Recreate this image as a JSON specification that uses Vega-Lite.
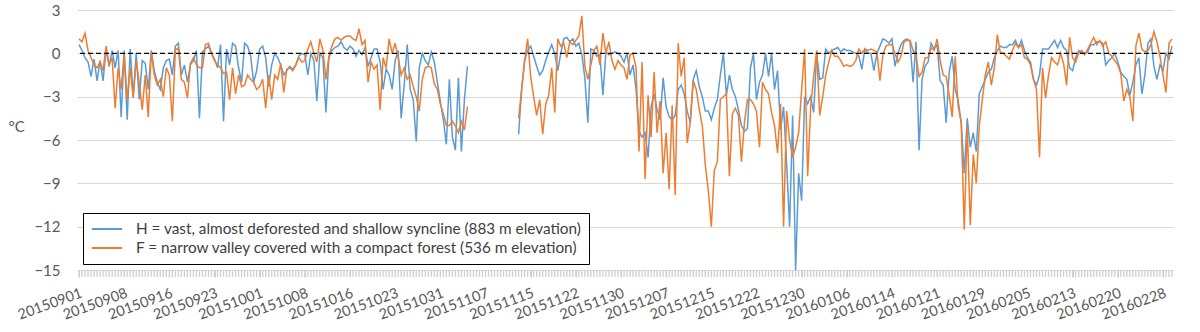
{
"$schema":"https://vega.github.io/schema/vega-lite/v6.json",
"width":1096,"height":260,
"autosize":{"type":"none"},
"padding":{"left":77,"top":10,"right":27,"bottom":62},
"background":"#ffffff",
"config":{"view":{"stroke":null},"font":"Lato"},
"data":{"values":[
{"t":"2015-09-01T00:00","H":0.6,"F":1.0},{"t":"2015-09-01T12:00","H":0.2,"F":0.8},
{"t":"2015-09-02T00:00","H":-0.3,"F":1.4},{"t":"2015-09-02T12:00","H":-0.6,"F":0.2},
{"t":"2015-09-03T00:00","H":-1.6,"F":-0.3},{"t":"2015-09-03T12:00","H":-0.4,"F":-0.8},
{"t":"2015-09-04T00:00","H":-1.9,"F":-1.0},{"t":"2015-09-04T12:00","H":-0.5,"F":-0.6},
{"t":"2015-09-05T00:00","H":-1.9,"F":-1.2},{"t":"2015-09-05T12:00","H":0.3,"F":0.5},
{"t":"2015-09-06T00:00","H":-0.9,"F":-0.8},{"t":"2015-09-06T12:00","H":0.2,"F":-0.3},
{"t":"2015-09-07T00:00","H":-1.0,"F":-3.8},{"t":"2015-09-07T12:00","H":0.2,"F":-1.0},
{"t":"2015-09-08T00:00","H":-4.4,"F":-2.5},{"t":"2015-09-08T12:00","H":0.2,"F":0.0},
{"t":"2015-09-09T00:00","H":-4.6,"F":-3.2},{"t":"2015-09-09T12:00","H":0.3,"F":-1.0},
{"t":"2015-09-10T00:00","H":-3.0,"F":-3.1},{"t":"2015-09-10T12:00","H":0.0,"F":-0.5},
{"t":"2015-09-11T00:00","H":-3.2,"F":-2.0},{"t":"2015-09-11T12:00","H":-0.5,"F":-3.9},
{"t":"2015-09-12T00:00","H":-0.7,"F":-1.5},{"t":"2015-09-12T12:00","H":-2.5,"F":-4.4},
{"t":"2015-09-13T00:00","H":0.2,"F":0.1},{"t":"2015-09-13T12:00","H":-1.2,"F":-1.5},
{"t":"2015-09-14T00:00","H":-2.0,"F":-2.2},{"t":"2015-09-14T12:00","H":-2.5,"F":-1.8},
{"t":"2015-09-15T00:00","H":-1.0,"F":-3.0},{"t":"2015-09-15T12:00","H":-0.5,"F":-1.0},
{"t":"2015-09-16T00:00","H":-0.4,"F":-1.5},{"t":"2015-09-16T12:00","H":-1.5,"F":-4.7},
{"t":"2015-09-17T00:00","H":0.5,"F":0.2},{"t":"2015-09-17T12:00","H":0.7,"F":0.4},
{"t":"2015-09-18T00:00","H":-1.5,"F":-1.8},{"t":"2015-09-18T12:00","H":-0.8,"F":-2.0},
{"t":"2015-09-19T00:00","H":-2.0,"F":-3.1},{"t":"2015-09-19T12:00","H":-0.8,"F":-0.7},
{"t":"2015-09-20T00:00","H":-0.5,"F":-0.3},{"t":"2015-09-20T12:00","H":0.2,"F":-0.8},
{"t":"2015-09-21T00:00","H":-4.5,"F":-1.0},{"t":"2015-09-21T12:00","H":0.1,"F":-1.0},
{"t":"2015-09-22T00:00","H":0.3,"F":0.6},{"t":"2015-09-22T12:00","H":0.5,"F":0.7},
{"t":"2015-09-23T00:00","H":0.0,"F":0.0},{"t":"2015-09-23T12:00","H":-0.4,"F":-0.5},
{"t":"2015-09-24T00:00","H":-1.0,"F":-0.8},{"t":"2015-09-24T12:00","H":0.6,"F":-1.0},
{"t":"2015-09-25T00:00","H":-4.7,"F":-1.4},{"t":"2015-09-25T12:00","H":0.3,"F":-1.3},
{"t":"2015-09-26T00:00","H":-0.8,"F":-3.2},{"t":"2015-09-26T12:00","H":0.7,"F":-1.0},
{"t":"2015-09-27T00:00","H":0.5,"F":-2.8},{"t":"2015-09-27T12:00","H":-1.0,"F":-1.5},
{"t":"2015-09-28T00:00","H":-2.0,"F":-2.3},{"t":"2015-09-28T12:00","H":0.7,"F":-2.2},
{"t":"2015-09-29T00:00","H":0.5,"F":-1.5},{"t":"2015-09-29T12:00","H":-0.2,"F":-1.8},
{"t":"2015-09-30T00:00","H":-2.0,"F":-2.0},{"t":"2015-09-30T12:00","H":-1.2,"F":-2.5},
{"t":"2015-10-01T00:00","H":0.3,"F":-2.3},{"t":"2015-10-01T12:00","H":0.5,"F":-1.8},
{"t":"2015-10-02T00:00","H":-0.3,"F":-3.8},{"t":"2015-10-02T12:00","H":-2.3,"F":-1.5},
{"t":"2015-10-03T00:00","H":-0.8,"F":-3.2},{"t":"2015-10-03T12:00","H":0.0,"F":-1.5},
{"t":"2015-10-04T00:00","H":-0.3,"F":-1.8},{"t":"2015-10-04T12:00","H":-0.8,"F":-0.7},
{"t":"2015-10-05T00:00","H":-1.5,"F":-2.7},{"t":"2015-10-05T12:00","H":-1.2,"F":-1.1},
{"t":"2015-10-06T00:00","H":-0.9,"F":-1.0},{"t":"2015-10-06T12:00","H":-1.1,"F":-1.2},
{"t":"2015-10-07T00:00","H":-0.8,"F":-0.8},{"t":"2015-10-07T12:00","H":-0.2,"F":-0.3},
{"t":"2015-10-08T00:00","H":0.0,"F":-0.6},{"t":"2015-10-08T12:00","H":-0.1,"F":-0.5},
{"t":"2015-10-09T00:00","H":-1.5,"F":0.3},{"t":"2015-10-09T12:00","H":0.0,"F":0.8},
{"t":"2015-10-10T00:00","H":-0.5,"F":0.0},{"t":"2015-10-10T12:00","H":-3.3,"F":-0.6},
{"t":"2015-10-11T00:00","H":0.0,"F":1.0},{"t":"2015-10-11T12:00","H":-0.3,"F":0.2},
{"t":"2015-10-12T00:00","H":-4.1,"F":-1.8},{"t":"2015-10-12T12:00","H":-0.3,"F":-0.2},
{"t":"2015-10-13T00:00","H":0.2,"F":0.5},{"t":"2015-10-13T12:00","H":0.4,"F":1.0},
{"t":"2015-10-14T00:00","H":0.5,"F":1.1},{"t":"2015-10-14T12:00","H":0.8,"F":0.9},
{"t":"2015-10-15T00:00","H":0.4,"F":1.1},{"t":"2015-10-15T12:00","H":0.2,"F":1.2},
{"t":"2015-10-16T00:00","H":0.5,"F":1.2},{"t":"2015-10-16T12:00","H":0.3,"F":1.0},
{"t":"2015-10-17T00:00","H":-0.2,"F":0.9},{"t":"2015-10-17T12:00","H":0.2,"F":1.7},
{"t":"2015-10-18T00:00","H":-0.1,"F":0.6},{"t":"2015-10-18T12:00","H":0.4,"F":0.9},
{"t":"2015-10-19T00:00","H":-0.9,"F":-2.0},{"t":"2015-10-19T12:00","H":-0.3,"F":-0.6},
{"t":"2015-10-20T00:00","H":0.3,"F":-1.1},{"t":"2015-10-20T12:00","H":0.3,"F":-0.8},
{"t":"2015-10-21T00:00","H":-0.6,"F":-3.9},{"t":"2015-10-21T12:00","H":-2.5,"F":-0.3},
{"t":"2015-10-22T00:00","H":-1.1,"F":-1.0},{"t":"2015-10-22T12:00","H":-1.5,"F":1.0},
{"t":"2015-10-23T00:00","H":-2.5,"F":0.0},{"t":"2015-10-23T12:00","H":-0.5,"F":0.7},
{"t":"2015-10-24T00:00","H":0.2,"F":-0.3},{"t":"2015-10-24T12:00","H":-4.5,"F":-1.5},
{"t":"2015-10-25T00:00","H":-2.2,"F":-1.0},{"t":"2015-10-25T12:00","H":0.6,"F":-1.8},
{"t":"2015-10-26T00:00","H":-2.5,"F":-1.5},{"t":"2015-10-26T12:00","H":-3.2,"F":-2.3},
{"t":"2015-10-27T00:00","H":-6.1,"F":-3.0},{"t":"2015-10-27T12:00","H":-1.0,"F":-4.0},
{"t":"2015-10-28T00:00","H":0.0,"F":-1.8},{"t":"2015-10-28T12:00","H":-0.5,"F":-1.0},
{"t":"2015-10-29T00:00","H":-0.8,"F":-0.9},{"t":"2015-10-29T12:00","H":0.1,"F":-1.0},
{"t":"2015-10-30T00:00","H":-0.6,"F":-2.1},{"t":"2015-10-30T12:00","H":-2.0,"F":-2.5},
{"t":"2015-10-31T00:00","H":-3.3,"F":-3.5},{"t":"2015-10-31T12:00","H":-4.6,"F":-4.2},
{"t":"2015-11-01T00:00","H":-6.3,"F":-5.0},{"t":"2015-11-01T12:00","H":-1.8,"F":-5.0},
{"t":"2015-11-02T00:00","H":-5.8,"F":-4.7},{"t":"2015-11-02T12:00","H":-6.7,"F":-5.0},
{"t":"2015-11-03T00:00","H":-1.7,"F":-5.5},{"t":"2015-11-03T12:00","H":-6.8,"F":-4.7},
{"t":"2015-11-04T00:00","H":-3.2,"F":-5.3},{"t":"2015-11-04T12:00","H":-0.9,"F":-3.7},
{"t":"2015-11-05T00:00","H":null,"F":null},{"t":"2015-11-05T12:00","H":null,"F":null},
{"t":"2015-11-06T00:00","H":null,"F":null},{"t":"2015-11-06T12:00","H":null,"F":null},
{"t":"2015-11-07T00:00","H":null,"F":null},{"t":"2015-11-07T12:00","H":null,"F":null},
{"t":"2015-11-08T00:00","H":null,"F":null},{"t":"2015-11-08T12:00","H":null,"F":null},
{"t":"2015-11-09T00:00","H":null,"F":null},{"t":"2015-11-09T12:00","H":null,"F":null},
{"t":"2015-11-10T00:00","H":null,"F":null},{"t":"2015-11-10T12:00","H":null,"F":null},
{"t":"2015-11-11T00:00","H":null,"F":null},{"t":"2015-11-11T12:00","H":null,"F":null},
{"t":"2015-11-12T00:00","H":null,"F":null},{"t":"2015-11-12T12:00","H":null,"F":null},
{"t":"2015-11-13T00:00","H":-5.6,"F":-4.5},{"t":"2015-11-13T12:00","H":-2.5,"F":-2.5},
{"t":"2015-11-14T00:00","H":-0.5,"F":-0.5},{"t":"2015-11-14T12:00","H":0.2,"F":1.0},
{"t":"2015-11-15T00:00","H":0.5,"F":-1.6},{"t":"2015-11-15T12:00","H":-0.2,"F":-3.0},
{"t":"2015-11-16T00:00","H":-0.9,"F":-4.3},{"t":"2015-11-16T12:00","H":-1.5,"F":-3.2},
{"t":"2015-11-17T00:00","H":-1.2,"F":-5.6},{"t":"2015-11-17T12:00","H":-0.5,"F":-3.5},
{"t":"2015-11-18T00:00","H":0.1,"F":-2.9},{"t":"2015-11-18T12:00","H":0.6,"F":-1.0},
{"t":"2015-11-19T00:00","H":0.0,"F":-4.1},{"t":"2015-11-19T12:00","H":-1.2,"F":1.0},
{"t":"2015-11-20T00:00","H":0.0,"F":0.5},{"t":"2015-11-20T12:00","H":1.0,"F":0.7},
{"t":"2015-11-21T00:00","H":1.1,"F":-0.3},{"t":"2015-11-21T12:00","H":0.8,"F":0.8},
{"t":"2015-11-22T00:00","H":1.0,"F":0.6},{"t":"2015-11-22T12:00","H":0.5,"F":0.9},
{"t":"2015-11-23T00:00","H":0.7,"F":1.2},{"t":"2015-11-23T12:00","H":-0.1,"F":2.6},
{"t":"2015-11-24T00:00","H":-1.7,"F":-0.9},{"t":"2015-11-24T12:00","H":-4.8,"F":-1.8},
{"t":"2015-11-25T00:00","H":0.3,"F":-0.8},{"t":"2015-11-25T12:00","H":0.2,"F":0.2},
{"t":"2015-11-26T00:00","H":-0.2,"F":0.5},{"t":"2015-11-26T12:00","H":-0.1,"F":-0.8},
{"t":"2015-11-27T00:00","H":-2.9,"F":1.4},{"t":"2015-11-27T12:00","H":0.1,"F":0.0},
{"t":"2015-11-28T00:00","H":-0.1,"F":0.8},{"t":"2015-11-28T12:00","H":0.0,"F":-0.5},
{"t":"2015-11-29T00:00","H":0.1,"F":-1.1},{"t":"2015-11-29T12:00","H":0.0,"F":-0.5},
{"t":"2015-11-30T00:00","H":-0.2,"F":-0.8},{"t":"2015-11-30T12:00","H":-0.6,"F":-1.0},
{"t":"2015-12-01T00:00","H":0.0,"F":-1.8},{"t":"2015-12-01T12:00","H":-1.5,"F":-0.1},
{"t":"2015-12-02T00:00","H":-0.8,"F":0.0},{"t":"2015-12-02T12:00","H":-2.5,"F":-1.0},
{"t":"2015-12-03T00:00","H":-5.4,"F":-6.8},{"t":"2015-12-03T12:00","H":-5.8,"F":-0.6},
{"t":"2015-12-04T00:00","H":-5.5,"F":-8.7},{"t":"2015-12-04T12:00","H":-7.2,"F":-2.9},
{"t":"2015-12-05T00:00","H":-3.7,"F":-5.8},{"t":"2015-12-05T12:00","H":-2.8,"F":-1.3},
{"t":"2015-12-06T00:00","H":-3.9,"F":-5.5},{"t":"2015-12-06T12:00","H":-4.6,"F":-3.3},
{"t":"2015-12-07T00:00","H":-1.7,"F":-8.3},{"t":"2015-12-07T12:00","H":-3.7,"F":-5.5},
{"t":"2015-12-08T00:00","H":-4.4,"F":-9.4},{"t":"2015-12-08T12:00","H":-4.6,"F":-3.6},
{"t":"2015-12-09T00:00","H":-4.3,"F":-9.8},{"t":"2015-12-09T12:00","H":-2.5,"F":0.7},
{"t":"2015-12-10T00:00","H":-2.2,"F":-1.6},{"t":"2015-12-10T12:00","H":-2.8,"F":-0.3},
{"t":"2015-12-11T00:00","H":-4.0,"F":-6.2},{"t":"2015-12-11T12:00","H":-4.8,"F":-4.8},
{"t":"2015-12-12T00:00","H":-1.8,"F":-1.9},{"t":"2015-12-12T12:00","H":-1.2,"F":-2.5},
{"t":"2015-12-13T00:00","H":-2.3,"F":-3.9},{"t":"2015-12-13T12:00","H":-3.0,"F":-5.0},
{"t":"2015-12-14T00:00","H":-4.0,"F":-7.7},{"t":"2015-12-14T12:00","H":-4.0,"F":-9.5},
{"t":"2015-12-15T00:00","H":-4.6,"F":-12.0},{"t":"2015-12-15T12:00","H":-3.8,"F":-8.1},
{"t":"2015-12-16T00:00","H":-3.2,"F":-7.5},{"t":"2015-12-16T12:00","H":-1.5,"F":-3.2},
{"t":"2015-12-17T00:00","H":0.0,"F":-3.0},{"t":"2015-12-17T12:00","H":-2.9,"F":-2.8},
{"t":"2015-12-18T00:00","H":-1.5,"F":-8.5},{"t":"2015-12-18T12:00","H":-2.5,"F":-4.2},
{"t":"2015-12-19T00:00","H":-3.0,"F":-3.8},{"t":"2015-12-19T12:00","H":-3.9,"F":-4.3},
{"t":"2015-12-20T00:00","H":-5.0,"F":-7.5},{"t":"2015-12-20T12:00","H":-5.4,"F":-4.8},
{"t":"2015-12-21T00:00","H":-5.2,"F":-3.2},{"t":"2015-12-21T12:00","H":-1.0,"F":-3.2},
{"t":"2015-12-22T00:00","H":0.0,"F":-3.5},{"t":"2015-12-22T12:00","H":-3.2,"F":-4.0},
{"t":"2015-12-23T00:00","H":-2.0,"F":-6.5},{"t":"2015-12-23T12:00","H":-1.5,"F":-2.0},
{"t":"2015-12-24T00:00","H":0.0,"F":-2.5},{"t":"2015-12-24T12:00","H":-1.6,"F":-2.8},
{"t":"2015-12-25T00:00","H":0.0,"F":-4.1},{"t":"2015-12-25T12:00","H":-2.5,"F":-5.0},
{"t":"2015-12-26T00:00","H":-1.2,"F":-6.9},{"t":"2015-12-26T12:00","H":-5.3,"F":-3.5},
{"t":"2015-12-27T00:00","H":-3.7,"F":-12.0},{"t":"2015-12-27T12:00","H":-7.6,"F":-4.0},
{"t":"2015-12-28T00:00","H":-12.0,"F":-6.0},{"t":"2015-12-28T12:00","H":-4.3,"F":-7.2},
{"t":"2015-12-29T00:00","H":-15.0,"F":-6.5},{"t":"2015-12-29T12:00","H":-8.3,"F":-5.5},
{"t":"2015-12-30T00:00","H":-10.2,"F":-2.5},{"t":"2015-12-30T12:00","H":-3.0,"F":0.3},
{"t":"2015-12-31T00:00","H":-3.5,"F":-8.5},{"t":"2015-12-31T12:00","H":-3.0,"F":-3.7},
{"t":"2016-01-01T00:00","H":-4.1,"F":-1.6},{"t":"2016-01-01T12:00","H":0.0,"F":0.2},
{"t":"2016-01-02T00:00","H":-1.8,"F":-4.3},{"t":"2016-01-02T12:00","H":-1.7,"F":-3.0},
{"t":"2016-01-03T00:00","H":0.3,"F":-1.5},{"t":"2016-01-03T12:00","H":0.0,"F":-0.6},
{"t":"2016-01-04T00:00","H":0.2,"F":0.2},{"t":"2016-01-04T12:00","H":0.3,"F":-0.2},
{"t":"2016-01-05T00:00","H":0.4,"F":-0.2},{"t":"2016-01-05T12:00","H":0.1,"F":-0.5},
{"t":"2016-01-06T00:00","H":0.3,"F":-0.9},{"t":"2016-01-06T12:00","H":0.2,"F":-0.8},
{"t":"2016-01-07T00:00","H":0.2,"F":-0.9},{"t":"2016-01-07T12:00","H":0.1,"F":-0.8},
{"t":"2016-01-08T00:00","H":0.0,"F":-0.5},{"t":"2016-01-08T12:00","H":-0.2,"F":0.3},
{"t":"2016-01-09T00:00","H":-1.1,"F":0.0},{"t":"2016-01-09T12:00","H":0.3,"F":0.3},
{"t":"2016-01-10T00:00","H":0.0,"F":0.2},{"t":"2016-01-10T12:00","H":0.0,"F":0.3},
{"t":"2016-01-11T00:00","H":-1.2,"F":0.2},{"t":"2016-01-11T12:00","H":0.0,"F":0.1},
{"t":"2016-01-12T00:00","H":0.5,"F":-1.9},{"t":"2016-01-12T12:00","H":1.0,"F":-0.1},
{"t":"2016-01-13T00:00","H":0.9,"F":0.5},{"t":"2016-01-13T12:00","H":0.7,"F":0.6},
{"t":"2016-01-14T00:00","H":1.0,"F":0.6},{"t":"2016-01-14T12:00","H":-0.9,"F":0.0},
{"t":"2016-01-15T00:00","H":0.0,"F":-0.6},{"t":"2016-01-15T12:00","H":0.6,"F":-0.2},
{"t":"2016-01-16T00:00","H":0.9,"F":0.8},{"t":"2016-01-16T12:00","H":1.0,"F":0.9},
{"t":"2016-01-17T00:00","H":0.8,"F":0.9},{"t":"2016-01-17T12:00","H":-2.0,"F":0.2},
{"t":"2016-01-18T00:00","H":0.8,"F":-0.2},{"t":"2016-01-18T12:00","H":-6.7,"F":-1.6},
{"t":"2016-01-19T00:00","H":-1.8,"F":-1.3},{"t":"2016-01-19T12:00","H":-0.9,"F":-0.3},
{"t":"2016-01-20T00:00","H":-0.6,"F":-0.3},{"t":"2016-01-20T12:00","H":0.7,"F":0.4},
{"t":"2016-01-21T00:00","H":0.3,"F":0.2},{"t":"2016-01-21T12:00","H":0.6,"F":1.0},
{"t":"2016-01-22T00:00","H":-1.9,"F":-0.5},{"t":"2016-01-22T12:00","H":-2.2,"F":-1.5},
{"t":"2016-01-23T00:00","H":-4.8,"F":-1.6},{"t":"2016-01-23T12:00","H":-1.3,"F":-2.9},
{"t":"2016-01-24T00:00","H":-0.2,"F":-4.4},{"t":"2016-01-24T12:00","H":-2.5,"F":-0.2},
{"t":"2016-01-25T00:00","H":-3.3,"F":-3.7},{"t":"2016-01-25T12:00","H":-4.8,"F":-4.8},
{"t":"2016-01-26T00:00","H":-8.3,"F":-12.2},{"t":"2016-01-26T12:00","H":-4.5,"F":-5.0},
{"t":"2016-01-27T00:00","H":-6.5,"F":-11.9},{"t":"2016-01-27T12:00","H":-5.5,"F":-7.0},
{"t":"2016-01-28T00:00","H":-6.8,"F":-9.0},{"t":"2016-01-28T12:00","H":-2.8,"F":-5.0},
{"t":"2016-01-29T00:00","H":-2.3,"F":-3.2},{"t":"2016-01-29T12:00","H":-1.8,"F":-1.5},
{"t":"2016-01-30T00:00","H":-1.3,"F":-0.6},{"t":"2016-01-30T12:00","H":-1.1,"F":-2.2},
{"t":"2016-01-31T00:00","H":-0.3,"F":-1.0},{"t":"2016-01-31T12:00","H":0.2,"F":1.3},
{"t":"2016-02-01T00:00","H":0.5,"F":0.0},{"t":"2016-02-01T12:00","H":0.4,"F":0.0},
{"t":"2016-02-02T00:00","H":0.4,"F":-0.2},{"t":"2016-02-02T12:00","H":0.6,"F":-0.4},
{"t":"2016-02-03T00:00","H":0.6,"F":0.2},{"t":"2016-02-03T12:00","H":0.9,"F":0.7},
{"t":"2016-02-04T00:00","H":0.4,"F":0.4},{"t":"2016-02-04T12:00","H":0.9,"F":0.6},
{"t":"2016-02-05T00:00","H":0.2,"F":-0.3},{"t":"2016-02-05T12:00","H":-0.3,"F":-0.4},
{"t":"2016-02-06T00:00","H":-0.6,"F":-0.8},{"t":"2016-02-06T12:00","H":-1.8,"F":-1.8},
{"t":"2016-02-07T00:00","H":-2.2,"F":-2.5},{"t":"2016-02-07T12:00","H":-1.5,"F":-7.2},
{"t":"2016-02-08T00:00","H":0.3,"F":-1.0},{"t":"2016-02-08T12:00","H":0.3,"F":-3.1},
{"t":"2016-02-09T00:00","H":0.3,"F":-1.5},{"t":"2016-02-09T12:00","H":0.6,"F":-0.3},
{"t":"2016-02-10T00:00","H":0.9,"F":-0.6},{"t":"2016-02-10T12:00","H":0.4,"F":-0.8},
{"t":"2016-02-11T00:00","H":0.9,"F":0.0},{"t":"2016-02-11T12:00","H":0.4,"F":-0.7},
{"t":"2016-02-12T00:00","H":0.2,"F":-2.2},{"t":"2016-02-12T12:00","H":-1.0,"F":1.1},
{"t":"2016-02-13T00:00","H":-1.2,"F":-0.3},{"t":"2016-02-13T12:00","H":-0.3,"F":-0.6},
{"t":"2016-02-14T00:00","H":0.2,"F":0.0},{"t":"2016-02-14T12:00","H":0.0,"F":0.2},
{"t":"2016-02-15T00:00","H":0.0,"F":-0.1},{"t":"2016-02-15T12:00","H":0.1,"F":0.3},
{"t":"2016-02-16T00:00","H":0.6,"F":0.7},{"t":"2016-02-16T12:00","H":0.6,"F":1.1},
{"t":"2016-02-17T00:00","H":0.8,"F":0.6},{"t":"2016-02-17T12:00","H":0.8,"F":0.9},
{"t":"2016-02-18T00:00","H":0.7,"F":0.5},{"t":"2016-02-18T12:00","H":-0.8,"F":0.8},
{"t":"2016-02-19T00:00","H":-0.5,"F":0.0},{"t":"2016-02-19T12:00","H":-0.3,"F":-0.2},
{"t":"2016-02-20T00:00","H":0.0,"F":-0.5},{"t":"2016-02-20T12:00","H":-0.6,"F":-0.8},
{"t":"2016-02-21T00:00","H":-1.3,"F":-1.4},{"t":"2016-02-21T12:00","H":-1.6,"F":-3.3},
{"t":"2016-02-22T00:00","H":-1.8,"F":-2.5},{"t":"2016-02-22T12:00","H":-2.9,"F":-3.0},
{"t":"2016-02-23T00:00","H":-2.0,"F":-4.7},{"t":"2016-02-23T12:00","H":-0.8,"F":0.5},
{"t":"2016-02-24T00:00","H":-0.3,"F":1.4},{"t":"2016-02-24T12:00","H":-2.8,"F":0.3},
{"t":"2016-02-25T00:00","H":-1.5,"F":0.1},{"t":"2016-02-25T12:00","H":0.7,"F":0.2},
{"t":"2016-02-26T00:00","H":1.0,"F":0.6},{"t":"2016-02-26T12:00","H":-0.9,"F":1.5},
{"t":"2016-02-27T00:00","H":-1.8,"F":0.8},{"t":"2016-02-27T12:00","H":-0.8,"F":-0.2},
{"t":"2016-02-28T00:00","H":-1.2,"F":-1.5},{"t":"2016-02-28T12:00","H":0.0,"F":-2.7},
{"t":"2016-02-29T00:00","H":-0.4,"F":0.7},{"t":"2016-02-29T12:00","H":0.5,"F":1.0}
]},
"layer":[
{
"transform":[{"fold":["H","F"],"as":["series","value"]}],
"mark":{"type":"line","strokeWidth":1.5},
"encoding":{
"x":{"field":"t","type":"temporal",
"scale":{"domain":[{"year":2015,"month":8,"date":31,"hours":16},{"year":2016,"month":2,"date":29,"hours":16}]},
"axis":{"title":null,
"values":[
{"year":2015,"month":9,"date":1},{"year":2015,"month":9,"date":8,"hours":12},{"year":2015,"month":9,"date":16},{"year":2015,"month":9,"date":23,"hours":12},
{"year":2015,"month":10,"date":1},{"year":2015,"month":10,"date":8,"hours":12},{"year":2015,"month":10,"date":16},{"year":2015,"month":10,"date":23,"hours":12},
{"year":2015,"month":10,"date":31},{"year":2015,"month":11,"date":7,"hours":12},{"year":2015,"month":11,"date":15},{"year":2015,"month":11,"date":22,"hours":12},
{"year":2015,"month":11,"date":30},{"year":2015,"month":12,"date":7,"hours":12},{"year":2015,"month":12,"date":15},{"year":2015,"month":12,"date":22,"hours":12},
{"year":2015,"month":12,"date":30},{"year":2016,"month":1,"date":6,"hours":12},{"year":2016,"month":1,"date":14},{"year":2016,"month":1,"date":21,"hours":12},
{"year":2016,"month":1,"date":29},{"year":2016,"month":2,"date":5,"hours":12},{"year":2016,"month":2,"date":13},{"year":2016,"month":2,"date":20,"hours":12},
{"year":2016,"month":2,"date":28}],
"format":"%Y%m%d","ticks":true,"tickSize":7,"tickColor":"#cfcfcf","tickWidth":1,
"domain":true,"domainColor":"#d9d9d9","grid":false,
"labelOverlap":false,"labelFlush":false,"labelBound":false,"labelAngle":-20,"labelAlign":"right","labelBaseline":"top",
"labelPadding":9,"labelFontSize":14.5,"labelColor":"#595959","labelFont":"Lato"}},
"y":{"field":"value","type":"quantitative",
"scale":{"domain":[-15,3],"nice":false,"zero":false},
"axis":{"values":[-15,-12,-9,-6,-3,0,3],"title":"°C","titleAngle":0,"titleX":-69,"titleY":116,"titleAlign":"left","titleBaseline":"middle",
"titleFontSize":15,"titleFontWeight":"normal","titleColor":"#595959","titleFont":"Lato",
"domain":false,"ticks":false,"grid":true,"gridColor":"#d9d9d9","labelPadding":17,"labelFontSize":15,"labelColor":"#595959","labelFont":"Lato"}},
"color":{"field":"series","type":"nominal",
"scale":{"domain":["H","F"],"range":["#5B9BD5","#ED7D31"]},
"legend":{"orient":"none","legendX":6,"legendY":203,"title":null,"symbolType":"M-1.9,0H1.9","symbolSize":256,"symbolStrokeWidth":2,"symbolOffset":8,
"labelFontSize":15.3,"labelFont":"Lato","labelColor":"#404040","labelLimit":700,"labelOffset":20,
"strokeColor":"#000000","fillColor":"#ffffff","padding":7,"rowPadding":1,
"labelExpr":"datum.label == 'H' ? 'H = vast, almost deforested and shallow syncline (883 m elevation)' : 'F = narrow valley covered with a compact forest (536 m elevation)'"}}
}
},
{
"mark":{"type":"tick","orient":"vertical","color":"#cfcfcf","thickness":1.3,"size":7,"yOffset":3.5,"opacity":1},
"encoding":{
"x":{"field":"t","type":"temporal"},
"y":{"datum":-15,"type":"quantitative"}
}
},
{
"data":{"values":[{"v":0}]},
"mark":{"type":"rule","color":"#000000","strokeWidth":1.2,"strokeDash":[5,3]},
"encoding":{"y":{"field":"v","type":"quantitative"}}
}
]
}
